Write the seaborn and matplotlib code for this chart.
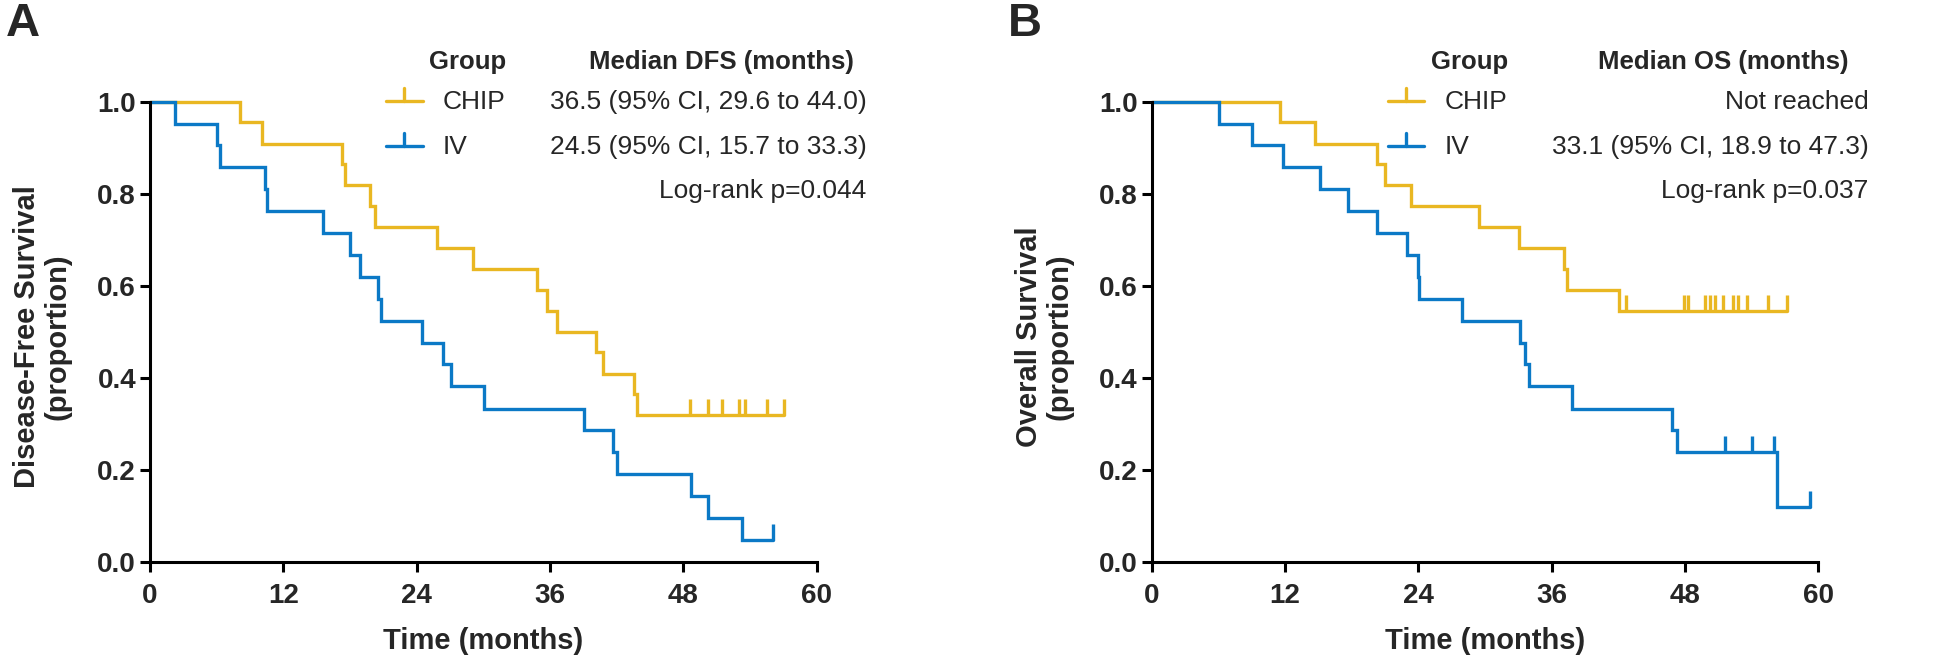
"""Kaplan-Meier curves CHIP vs IV (DFS and OS), two panels."""

import matplotlib.pyplot as plt
from matplotlib.lines import Line2D
import numpy as np
import pandas as pd
import seaborn as sns

W, H = 1946, 658
YELLOW = "#E9B722"
BLUE = "#0B79C6"

# Panel A - disease-free survival
dfs_chip_t = [0, 8.1, 10.05, 17.25, 17.55, 19.8, 20.25, 25.8, 29.1, 34.8, 35.7, 36.6,
              40.1, 40.8, 43.6, 43.8]
dfs_chip_s = [1.0, 0.955, 0.909, 0.864, 0.818, 0.773, 0.727, 0.682, 0.636, 0.591, 0.545,
              0.5, 0.455, 0.409, 0.364, 0.318]
dfs_chip_cens = [48.6, 50.25, 51.5, 53.0, 53.55, 55.5, 57.1]

dfs_iv_t = [0, 2.25, 6.0, 6.3, 10.35, 10.5, 15.6, 18.0, 18.9, 20.55, 20.8, 24.5, 26.4,
            27.06, 30.06, 39.1, 41.7, 42.0, 48.7, 50.2, 53.25]
dfs_iv_s = [1.0, 0.952, 0.905, 0.857, 0.810, 0.762, 0.714, 0.667, 0.619, 0.571, 0.524,
            0.476, 0.429, 0.381, 0.333, 0.286, 0.238, 0.190, 0.143, 0.095, 0.048]
dfs_iv_cens = [56.1]

# Panel B - overall survival
os_chip_t = [0, 11.55, 14.7, 20.3, 21.0, 23.3, 29.5, 33.06, 37.1, 37.4, 42.06]
os_chip_s = [1.0, 0.955, 0.909, 0.864, 0.818, 0.773, 0.727, 0.682, 0.636, 0.591, 0.545]
os_chip_cens = [42.7, 47.9, 48.3, 49.8, 50.25, 50.7, 51.45, 52.35, 52.8, 53.55, 55.5,
                57.15]

os_iv_t = [0, 6.06, 9.0, 11.8, 15.15, 17.7, 20.3, 23.0, 23.94, 24.1, 27.9, 33.15, 33.6,
           34.0, 37.85, 46.8, 47.3, 56.25]
os_iv_s = [1.0, 0.952, 0.905, 0.857, 0.810, 0.762, 0.714, 0.667, 0.619, 0.571, 0.524,
           0.476, 0.429, 0.381, 0.333, 0.286, 0.238, 0.119]
os_iv_cens = [51.6, 54.0, 56.0, 59.25]

groups = ["CHIP", "IV"]
x_ticks = [0, 12, 24, 36, 48, 60]
y_ticks = [0.0, 0.2, 0.4, 0.6, 0.8, 1.0]

panels = [
    {
        "letter": "A",
        "ylabel": "Disease-Free Survival\n(proportion)",
        "median_title": "Median DFS (months)",
        "medians": ["36.5 (95% CI, 29.6 to 44.0)", "24.5 (95% CI, 15.7 to 33.3)"],
        "pvalue": "Log-rank p=0.044",
        "curves": [(dfs_chip_t, dfs_chip_s, dfs_chip_cens),
                   (dfs_iv_t, dfs_iv_s, dfs_iv_cens)],
    },
    {
        "letter": "B",
        "ylabel": "Overall Survival\n(proportion)",
        "median_title": "Median OS (months)",
        "medians": ["Not reached", "33.1 (95% CI, 18.9 to 47.3)"],
        "pvalue": "Log-rank p=0.037",
        "curves": [(os_chip_t, os_chip_s, os_chip_cens),
                   (os_iv_t, os_iv_s, os_iv_cens)],
    },
]

sns.set_theme(style="ticks")
plt.rcParams["font.family"] = ["Liberation Sans", "DejaVu Sans"]

fig = plt.figure(figsize=(W / 100, H / 100), dpi=100)


def fx(px):
    return px / W


def fy(py):
    return 1 - py / H


offsets = [0, 1001.7]
for panel, off in zip(panels, offsets):
    ax = fig.add_axes([fx(150 + off), fy(561.7), 666.7 / W, 460 / H])
    for (t, s, cens), name, col in zip(panel["curves"], groups, [YELLOW, BLUE]):
        end = max(max(cens), t[-1])
        df = pd.DataFrame({"time": t + [end], "surv": s + [s[-1]]})
        sns.lineplot(data=df, x="time", y="surv", drawstyle="steps-post",
                     estimator=None, color=col, lw=2.4, ax=ax, clip_on=False,
                     solid_joinstyle="miter")
        # censor ticks sit on the step curve
        idx = np.searchsorted(t, cens, side="right") - 1
        cy = np.array(s)[idx]
        ax.vlines(cens, cy, cy + 0.035, color=col, lw=2.4, clip_on=False)

    ax.set_xlim(0, 60)
    ax.set_ylim(0, 1.0)
    ax.set_xticks(x_ticks)
    ax.set_yticks(y_ticks)
    ax.set_yticklabels([f"{v:.1f}" for v in y_ticks])
    for sp in ["left", "bottom"]:
        ax.spines[sp].set_linewidth(2.2)
        ax.spines[sp].set_color("black")
    sns.despine(ax=ax)
    ax.tick_params(axis="both", width=2.2, length=7, color="black", labelsize=20)
    ax.tick_params(axis="x", pad=8)
    ax.tick_params(axis="y", pad=3)
    for lab in ax.get_xticklabels() + ax.get_yticklabels():
        lab.set_fontweight("bold")
    ax.set_xlabel("Time (months)", fontsize=21, fontweight="bold")
    ax.xaxis.set_label_coords(0.5, -0.142)
    ax.set_ylabel(panel["ylabel"], fontsize=21, fontweight="bold", linespacing=1.1)
    ax.yaxis.set_label_coords(-0.118, 0.49)

    # panel letter
    fig.text(fx(6 + off), fy(2), panel["letter"], fontsize=34, fontweight="bold",
             ha="left", va="top")

    # legend block
    fig.text(fx(468 + off), fy(62), "Group", fontsize=18.5, fontweight="bold",
             ha="center", va="center")
    fig.text(fx(721.7 + off), fy(62), panel["median_title"], fontsize=18.5,
             fontweight="bold", ha="center", va="center")
    for i, (name, col) in enumerate(zip(groups, [YELLOW, BLUE])):
        yy = 101 + 45 * i
        fig.add_artist(Line2D([fx(386 + off), fx(422.7 + off)], [fy(yy), fy(yy)],
                              color=col, lw=2.4))
        fig.add_artist(Line2D([fx(404.3 + off)] * 2, [fy(yy), fy(yy - 13)],
                              color=col, lw=2.4))
        fig.text(fx(443 + off), fy(yy + 1), name, fontsize=19, ha="left", va="center")
        fig.text(fx(866.7 + off), fy(yy + 1), panel["medians"][i], fontsize=19,
                 ha="right", va="center")
    fig.text(fx(866.7 + off), fy(191), panel["pvalue"], fontsize=19, ha="right",
             va="center")

fig.savefig("out.png", dpi=100)
